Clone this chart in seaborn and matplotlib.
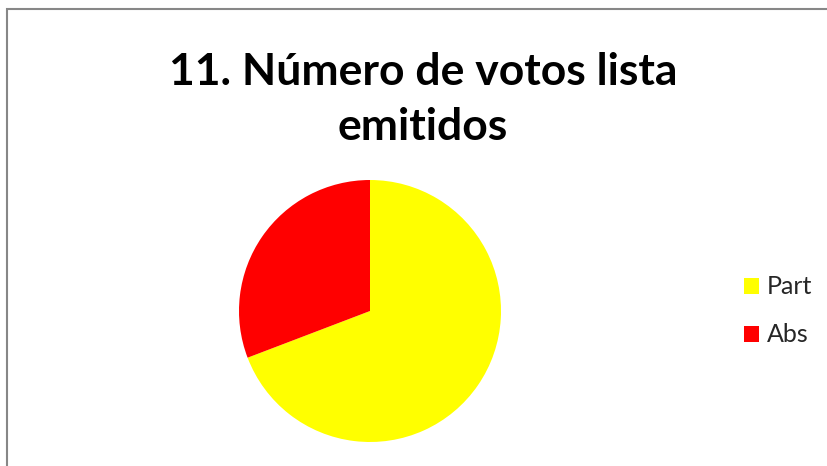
import matplotlib
matplotlib.use("Agg")
import matplotlib.pyplot as plt
import seaborn as sns
from matplotlib.patches import Rectangle

labels = ["Part", "Abs"]
values = [69.2, 30.8]
colors = ["#FFFF00", "#FF0000"]
title_lines = ["11. Número de votos lista", "emitidos"]

sns.set_theme(style="white")
plt.rcParams['font.family'] = ['Lato', 'DejaVu Sans']

W, H = 827, 466
fig = plt.figure(figsize=(W / 100, H / 100), dpi=100)
fig.patch.set_facecolor("white")

# frame (right and bottom edges fall outside the image)
fig.patches.append(Rectangle((7 / W, -0.1), 1.2, 1.1 - 9 / H, transform=fig.transFigure,
                             fill=False, edgecolor="#878787", linewidth=1.5))

cx, cy, r = 370, 311, 131
ax = fig.add_axes([(cx - r) / W, (H - cy - r) / H, 2 * r / W, 2 * r / H])
wedges, _ = ax.pie(values, colors=colors, startangle=90, counterclock=False,
                   radius=1, wedgeprops=dict(linewidth=0))
ax.set_xlim(-1, 1)
ax.set_ylim(-1, 1)
ax.set_aspect("equal")
ax.axis("off")

fig.text(423 / W, 1 - 85 / H, title_lines[0], ha="center", va="baseline",
         fontsize=32, fontweight="bold", color="black")
fig.text(423 / W, 1 - 140 / H, title_lines[1], ha="center", va="baseline",
         fontsize=32, fontweight="bold", color="black")

leg = fig.legend(wedges, labels, loc="center left", bbox_to_anchor=(744 / W, 1 - 311 / H),
                 frameon=False, fontsize=18, handlelength=0.6, handleheight=0.6,
                 handletextpad=0.3, labelspacing=1.0, borderpad=0, borderaxespad=0)

fig.savefig("out.png", dpi=100)
